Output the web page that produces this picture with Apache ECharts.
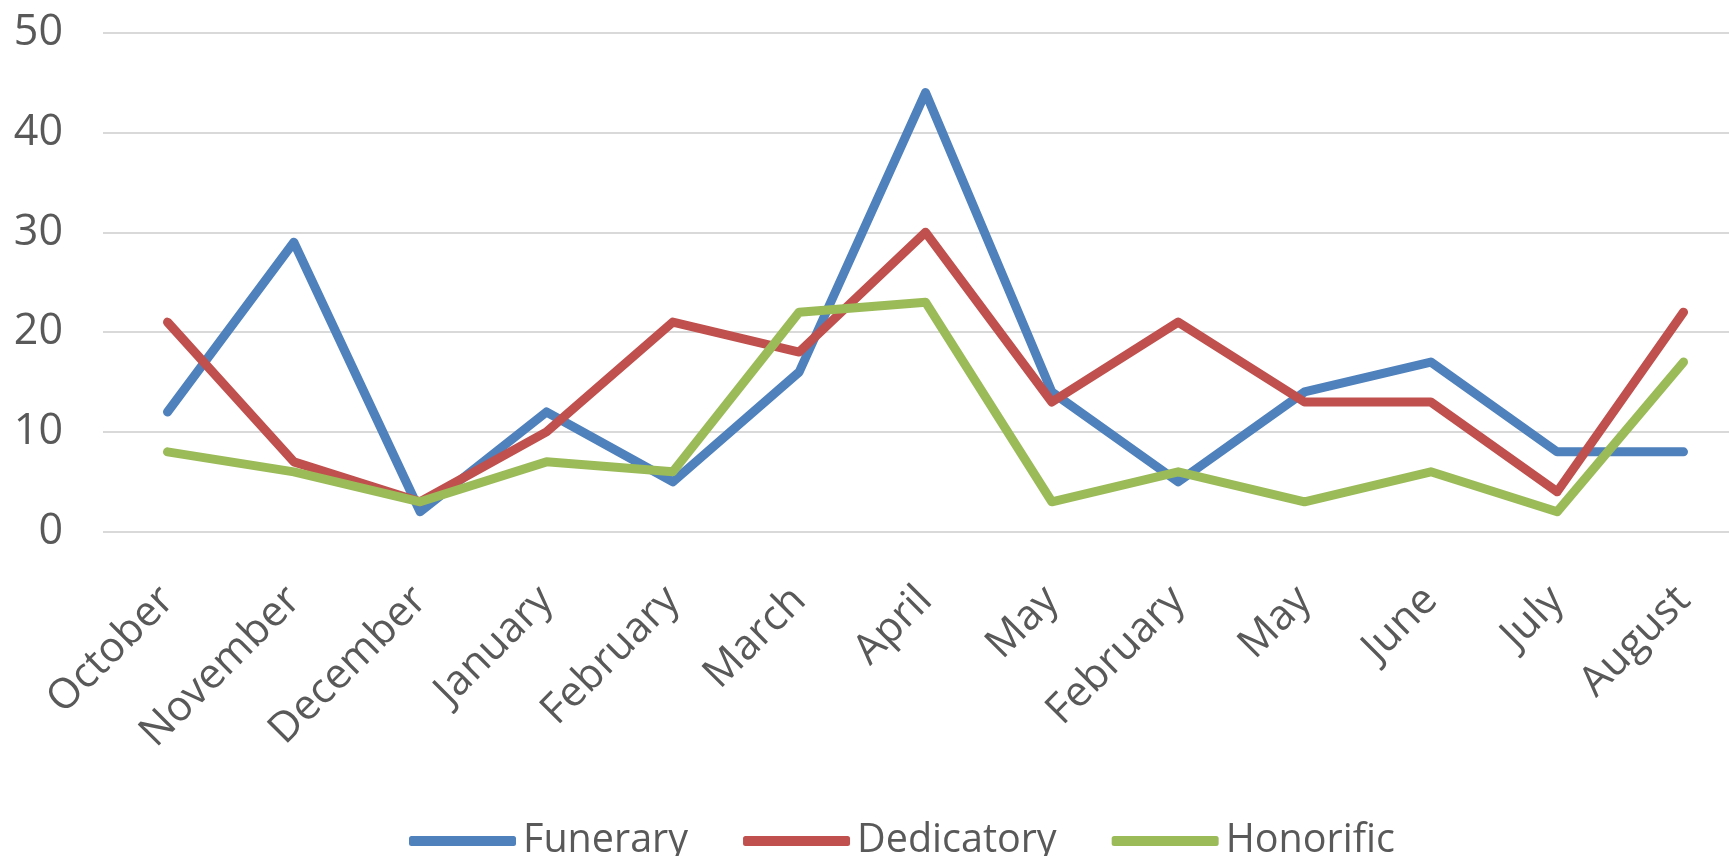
<!DOCTYPE html>
<html>
<head>
<meta charset="utf-8">
<script src="https://cdn.jsdelivr.net/npm/echarts@6/dist/echarts.min.js"></script>
<style>
html,body{margin:0;padding:0;background:#fff;}
#chart{width:1729px;height:856px;}
</style>
</head>
<body>
<div id="chart"></div>
<script>
const categories = ['October','November','December','January','February','March','April','May','February','May','June','July','August'];
const funerary   = [12, 29, 2, 12, 5, 16, 44, 14, 5, 14, 17, 8, 8];
const dedicatory = [21, 7, 3, 10, 21, 18, 30, 13, 21, 13, 13, 4, 22];
const honorific  = [8, 6, 3, 7, 6, 22, 23, 3, 6, 3, 6, 2, 17];
const seriesNames = ['Funerary','Dedicatory','Honorific'];
const yTicks = [0, 10, 20, 30, 40, 50];

const FONT = '"Open Sans", "Noto Sans", sans-serif';
const TEXT = '#595959';
const colors = ['#4F81BD', '#C0504D', '#9BBB59'];
const data = [funerary, dedicatory, honorific];

const yMin = yTicks[0], yMax = yTicks[yTicks.length - 1];

const chart = echarts.init(document.getElementById('chart'), null, {renderer: 'canvas'});
chart.setOption({
  animation: false,
  backgroundColor: '#ffffff',
  color: colors,
  grid: [
    {left: 103, right: 0, top: 32.7, height: 499},
    {left: 167.5, right: 45.5, top: 32.7, height: 499}
  ],
  legend: {
    data: seriesNames,
    left: 404,
    top: 816,
    itemWidth: 107,
    itemHeight: 10,
    itemGap: 55,
    icon: 'roundRect',
    textStyle: {fontFamily: FONT, fontSize: 39.5, color: TEXT, padding: [0, 0, 0, 2]}
  },
  xAxis: [
    {gridIndex: 0, type: 'value', min: 0, max: 1, show: false},
    {
      gridIndex: 1,
      type: 'category',
      data: categories,
      boundaryGap: false,
      axisLine: {show: false},
      axisTick: {show: false},
      splitLine: {show: false},
      axisLabel: {
        interval: 0,
        rotate: 45,
        margin: 62,
        fontFamily: FONT,
        fontSize: 42,
        color: TEXT
      }
    }
  ],
  yAxis: [
    {
      gridIndex: 0,
      type: 'value',
      min: yMin, max: yMax, interval: 10,
      axisLine: {show: false},
      axisTick: {show: false},
      splitLine: {show: true, lineStyle: {color: '#d9d9d9', width: 2}},
      axisLabel: {margin: 40, fontFamily: FONT, fontSize: 43, color: TEXT}
    },
    {
      gridIndex: 1,
      type: 'value',
      min: yMin, max: yMax, interval: 10,
      show: false,
      splitLine: {show: false}
    }
  ],
  series: seriesNames.map((name, i) => ({
    name: name,
    type: 'line',
    xAxisIndex: 1,
    yAxisIndex: 1,
    data: data[i],
    symbol: 'none',
    lineStyle: {width: 9, color: colors[i], cap: 'round', join: 'round'},
    itemStyle: {color: colors[i]}
  }))
});
</script>
</body>
</html>
